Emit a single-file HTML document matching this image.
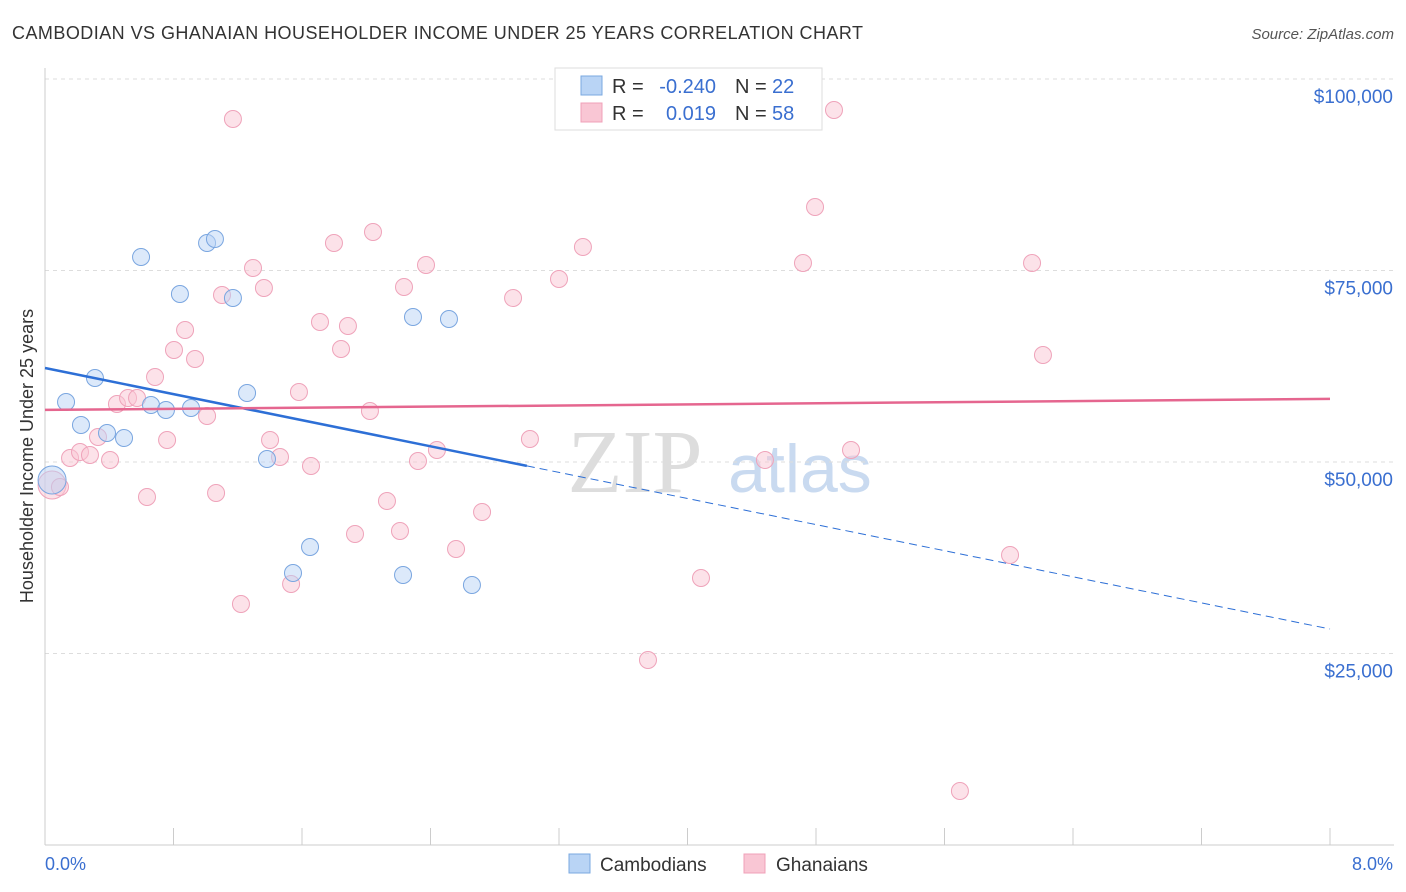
<!DOCTYPE html>
<html><head><meta charset="utf-8"><style>
body{margin:0;background:#fff;font-family:"Liberation Sans",sans-serif;}
svg{display:block}
</style></head><body>
<svg id="chart" width="1406" height="892">
<text x="12" y="39" font-size="18" fill="#333" textLength="851">CAMBODIAN VS GHANAIAN HOUSEHOLDER INCOME UNDER 25 YEARS CORRELATION CHART</text>
<text x="1394" y="39" font-size="15" fill="#555" font-style="italic" text-anchor="end">Source: ZipAtlas.com</text>
<text x="33" y="456" font-size="18" fill="#333" text-anchor="middle" transform="rotate(-90 33 456)">Householder Income Under 25 years</text>
<text x="635" y="492" font-size="90" fill="#ddd" font-family="Liberation Serif,serif" text-anchor="middle">ZIP</text>
<text x="800" y="492" font-size="68" fill="#c9daf0" text-anchor="middle">atlas</text>
<g id="grid"></g><g id="marks"></g>
<g>
<rect x="555" y="68" width="267" height="62" fill="#fff" stroke="#ddd"/>
<rect x="581" y="76" width="21" height="19" fill="#b9d4f5" stroke="#7aa8e0"/>
<rect x="581" y="103" width="21" height="19" fill="#f9c6d4" stroke="#f0a0b8"/>
<text x="612" y="93" font-size="20" fill="#333">R =</text>
<text x="716" y="93" font-size="20" fill="#3a6fd0" text-anchor="end">-0.240</text>
<text x="735" y="93" font-size="20" fill="#333">N =</text>
<text x="772" y="93" font-size="20" fill="#3a6fd0">22</text>
<text x="612" y="120" font-size="20" fill="#333">R =</text>
<text x="716" y="120" font-size="20" fill="#3a6fd0" text-anchor="end">0.019</text>
<text x="735" y="120" font-size="20" fill="#333">N =</text>
<text x="772" y="120" font-size="20" fill="#3a6fd0">58</text>
</g>
<g>
<rect x="569" y="854" width="21" height="19" fill="#b9d4f5" stroke="#7aa8e0"/>
<text x="600" y="871" font-size="19" fill="#333">Cambodians</text>
<rect x="744" y="854" width="21" height="19" fill="#f9c6d4" stroke="#f0a0b8"/>
<text x="776" y="871" font-size="19" fill="#333">Ghanaians</text>
</g>
<text x="45" y="870" font-size="18" fill="#3a6fd0">0.0%</text>
<text x="1393" y="870" font-size="18" fill="#3a6fd0" text-anchor="end">8.0%</text>
</svg>
<script>
const yTicks=[25000,50000,75000,100000];
const yTickLabels=["$25,000","$50,000","$75,000","$100,000"];
const xTicks=[0,0.8,1.6,2.4,3.2,4.0,4.8,5.6,6.4,7.2,8.0];
const camPx=[[52,480],[66,402],[95,378],[81,425],[107,433],[124,438],[141,257],[151,405],[166,410],[180,294],[191,408],[207,243],[215,239],[233,298],[247,393],[267,459],[293,573],[310,547],[403,575],[413,317],[449,319],[472,585]];
const ghaPx=[[52,485],[60,487],[70,458],[80,452],[90,455],[98,437],[110,460],[117,404],[128,398],[137,398],[147,497],[155,377],[167,440],[174,350],[185,330],[195,359],[207,416],[216,493],[222,295],[233,119],[241,604],[253,268],[264,288],[270,440],[280,457],[291,584],[299,392],[311,466],[320,322],[334,243],[341,349],[348,326],[355,534],[370,411],[373,232],[387,501],[400,531],[404,287],[418,461],[426,265],[437,450],[456,549],[482,512],[513,298],[530,439],[559,279],[583,247],[648,660],[701,578],[765,460],[803,263],[815,207],[834,110],[851,450],[960,791],[1010,555],[1032,263],[1043,355]];
const camX=camPx.map(p=>+((p[0]-45)/1285*8).toFixed(3));
const camY=camPx.map(p=>Math.round((845-p[1])/383*50000));
const ghaX=ghaPx.map(p=>+((p[0]-45)/1285*8).toFixed(3));
const ghaY=ghaPx.map(p=>Math.round((845-p[1])/383*50000));
const camTrend=[62270,-4259];
const ghaTrend=[56800,180];
const X=v=>45+v/8*1285, Y=v=>845-v/50000*383;
const NS="http://www.w3.org/2000/svg";
function mk(t,a,p){const e=document.createElementNS(NS,t);for(const k in a)e.setAttribute(k,a[k]);p.appendChild(e);return e;}
const g=document.getElementById('grid'),m=document.getElementById('marks');
yTicks.forEach((v,i)=>{
 const l=mk('line',{x1:45,x2:1394,y1:Y(v),y2:Y(v),stroke:'#ddd','stroke-dasharray':'4,4'},g);
 
 
 const t=mk('text',{x:1393,y:Y(v)+24,'font-size':19,fill:'#3a6fd0','text-anchor':'end'},g);t.textContent=yTickLabels[i];
 
 
});
mk('line',{x1:45,x2:1394,y1:845,y2:845,stroke:'#ccc'},g);
mk('line',{x1:45,x2:45,y1:68,y2:845,stroke:'#ccc'},g);
xTicks.forEach(v=>{const t=mk('line',{x1:X(v),x2:X(v),y1:828,y2:845,stroke:'#ccc'},g);
 
 });
function pts(xs,ys,fill,stroke,name){xs.forEach((x,i)=>{const c=mk('circle',{cx:X(x),cy:Y(ys[i]),r:i==0?14:8.5,fill:fill,'fill-opacity':0.5,stroke:stroke,'stroke-width':1},m);
 
 });}
pts(ghaX,ghaY,'#f9c6d4','#efa3ba','ghanaian-point');
pts(camX,camY,'#b9d4f5','#7aa6e0','cambodian-point');
const tr=(a,x)=>a[0]+a[1]*x;
let l1=mk('line',{x1:X(0),y1:Y(tr(camTrend,0)),x2:X(3.0),y2:Y(tr(camTrend,3.0)),stroke:'#2d6fd6','stroke-width':2.5},m);


let l2=mk('line',{x1:X(3.0),y1:Y(tr(camTrend,3.0)),x2:X(8),y2:Y(tr(camTrend,8)),stroke:'#2d6fd6','stroke-width':1,'stroke-dasharray':'8,5'},m);


let l3=mk('line',{x1:X(0),y1:Y(tr(ghaTrend,0)),x2:X(8),y2:Y(tr(ghaTrend,8)),stroke:'#e5668f','stroke-width':2.5},m);


</script>
</body></html>
